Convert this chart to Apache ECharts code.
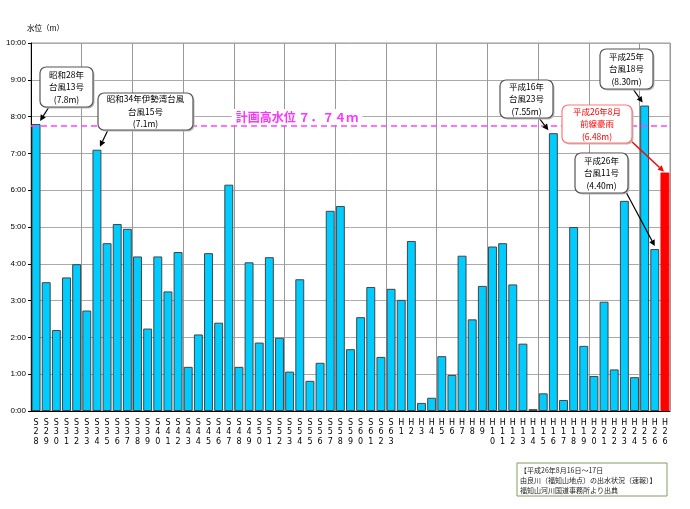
<!DOCTYPE html>
<html>
<head>
<meta charset="utf-8">
<script src="https://cdn.jsdelivr.net/npm/echarts@6/dist/echarts.min.js"></script>
<style>html,body{margin:0;padding:0;background:#fff;}#c{width:690px;height:509px;}</style>
</head>
<body>
<div id="c"></div>
<script>
// ---- data ----
const categories = ['S28','S29','S30','S31','S32','S33','S34','S35','S36','S37','S38','S39','S40','S41','S42','S43','S44','S45','S46','S47','S48','S49','S50','S51','S52','S53','S54','S55','S56','S57','S58','S59','S60','S61','S62','S63',
  'H1','H2','H3','H4','H5','H6','H7','H8','H9','H10','H11','H12','H13','H14','H15','H16','H17','H18','H19','H20','H21','H22','H23','H24','H25','H26','H26'];
const waterLevels = [7.80,3.50,2.20,3.63,3.99,2.73,7.10,4.56,5.08,4.95,4.20,2.24,4.20,3.25,4.32,1.20,2.08,4.29,2.40,6.15,1.20,4.04,1.86,4.18,1.99,1.07,3.58,0.82,1.31,5.44,5.57,1.68,2.55,3.37,1.47,3.32,
  3.02,4.62,0.22,0.36,1.49,0.98,4.22,2.49,3.40,4.47,4.56,3.44,1.83,0.05,0.48,7.55,0.30,5.00,1.77,0.95,2.97,1.13,5.71,0.92,8.30,4.40,6.48];
const yTicks = [0,1,2,3,4,5,6,7,8,9,10];
const planHighWater = 7.74;
const planLabel = '計画高水位 ７．７４ｍ';
const highlightIndex = 62;
const annotationIndex = [0, 6, 51, 60, 62, 61];
const annotationText = [
  '昭和28年\n台風13号\n(7.8m)',
  '昭和34年伊勢湾台風\n台風15号\n(7.1m)',
  '平成16年\n台風23号\n(7.55m)',
  '平成25年\n台風18号\n(8.30m)',
  '平成26年8月\n前線豪雨\n(6.48m)',
  '平成26年\n台風11号\n(4.40m)'
];
const sourceText = '【平成26年8月16日～17日\n由良川（福知山地点）の出水状況（速報）】\n福知山河川国道事務所より出典';
const yAxisTitle = '水位（m）';

// ---- layout ----
const boxes = [
  {x:40, y:67, w:53, h:40, sx:49, sy:107, dx:4, dy:-3},
  {x:98, y:93, w:95, h:37, sx:108, sy:130, dx:3, dy:-3},
  {x:500, y:80, w:53, h:38, sx:539, sy:118, dx:-5, dy:-3},
  {x:600, y:49, w:53, h:40, sx:633, sy:89, dx:-2, dy:-3},
  {x:562, y:105, w:70, h:38, sx:630, sy:140, dx:-1, dy:-1, red:true},
  {x:575, y:153, w:53, h:40, sx:626, sy:192, dx:0, dy:-3}
];

const chart = echarts.init(document.getElementById('c'), null, {renderer:'canvas'});
const FONT = '"Noto Sans CJK JP", sans-serif';

chart.setOption({
  animation: false,
  grid: {left:31, right:20, top:43, bottom:98, show:true, borderColor:'#999', borderWidth:1, backgroundColor:'#fff'},
  xAxis: {
    type:'category', data: categories, boundaryGap:true,
    axisLine:{lineStyle:{color:'#000', width:1}},
    axisTick:{show:false},
    axisLabel:{interval:0, fontSize:8, fontFamily:'"DejaVu Sans", sans-serif', color:'#000', lineHeight:9.5, margin:7,
      formatter: v => v.split('').join('\n')},
    splitLine:{show:true, interval: (i) => i % 5 === 0, lineStyle:{color:'#999', width:1}}
  },
  yAxis: {
    type:'value', min: yTicks[0], max: yTicks[yTicks.length-1], interval:1,
    axisLine:{show:true, lineStyle:{color:'#000'}},
    axisTick:{show:true, length:3, lineStyle:{color:'#000'}},
    axisLabel:{fontSize:8, fontFamily:'"Liberation Sans", sans-serif', color:'#000', margin:5,
      formatter: v => v + ':00'},
    splitLine:{show:true, lineStyle:{color:'#aaa', width:1}}
  },
  series: [{
    type:'bar',
    barCategoryGap:'12%',
    data: waterLevels.map((v,i) => i === highlightIndex ? {value:v, itemStyle:{color:'#ff0000', borderColor:'#ff0000'}} : v),
    itemStyle:{color:'#00ccff', borderColor:'#444', borderWidth:1},
    markLine:{
      silent:true, symbol:'none',
      lineStyle:{color:'#ff44ff', type:[6,4], width:1.5},
      label:{show:false},
      data:[{yAxis: planHighWater}]
    },
    z:2
  }]
});

// ---- annotations ----
const g = [];
g.push({type:'text', left:27, top:24, style:{text:yAxisTitle, font:'7.5px ' + FONT, fill:'#000'}});
g.push({type:'text', x:297, y:117, z:10, style:{text:planLabel, font:'bold 12px ' + FONT, fill:'#ff33ff',
  align:'center', verticalAlign:'middle', backgroundColor:'#fff', padding:[2,4]}});

function arrow(x1,y1,x2,y2,color,lw){
  const ang = Math.atan2(y2-y1, x2-x1);
  const L = 6, W = 3;
  const bx = x2 - L*Math.cos(ang), by = y2 - L*Math.sin(ang);
  const px = -Math.sin(ang)*W, py = Math.cos(ang)*W;
  g.push({type:'line', z:20, shape:{x1:x1,y1:y1,x2:bx,y2:by}, style:{stroke:color, lineWidth:lw}});
  g.push({type:'polygon', z:20, shape:{points:[[x2,y2],[bx+px,by+py],[bx-px,by-py]]}, style:{fill:color}});
}

annotationIndex.forEach((idx, k) => {
  const b = boxes[k];
  const p = chart.convertToPixel({seriesIndex:0}, [idx, waterLevels[idx]]);
  const col = b.red ? '#ff0000' : '#000';
  arrow(b.sx, b.sy, p[0] + b.dx, p[1] + b.dy, col, b.red ? 1.5 : 1.2);
  g.push({type:'rect', z:21, shape:{x:b.x+1.5, y:b.y+1.5, width:b.w, height:b.h, r:6}, style:{fill:'#bbb'}});
  g.push({type:'rect', z:22, shape:{x:b.x, y:b.y, width:b.w, height:b.h, r:6},
    style:{fill:'#fff', stroke: b.red ? '#ff7777' : '#555', lineWidth:1.2}});
  g.push({type:'text', z:23, x:b.x + b.w/2, y:b.y + b.h/2, style:{text:annotationText[k], font:'8.5px ' + FONT,
    fill: b.red ? '#ff0000' : '#000', align:'center', verticalAlign:'middle', lineHeight:12.5}});
});

g.push({type:'rect', shape:{x:517, y:463, width:150, height:33}, style:{fill:'#fff', stroke:'#7f9f5f', lineWidth:1}});
g.push({type:'text', x:520, y:465, style:{text:sourceText, font:'7px ' + FONT, fill:'#222', lineHeight:10}});

chart.setOption({graphic: g});
</script>
</body>
</html>
